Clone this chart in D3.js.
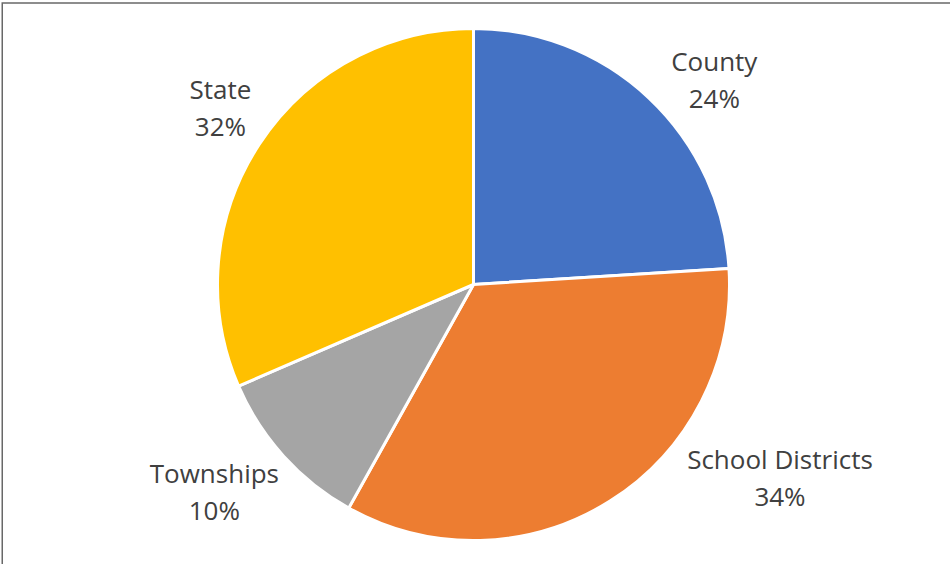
<!DOCTYPE html>
<html>
<head>
<meta charset="utf-8">
<script src="https://cdn.jsdelivr.net/npm/d3@7/dist/d3.min.js"></script>
<style>
  html, body { margin: 0; padding: 0; background: #ffffff; }
  svg { display: block; }
</style>
</head>
<body>
<svg id="chart" width="950" height="564"></svg>
<script>
// Share of revenue by level of government
const categories = ["County", "School Districts", "Townships", "State"];
const shares = [24.0, 34.1, 10.4, 31.5];
const colors = ["#4472C4", "#ED7D31", "#A5A5A5", "#FFC000"];

const width = 950, height = 564;
const cx = 473.5, cy = 284.5, radius = 256;

const svg = d3.select("#chart");

// Chart area frame (open on the right and bottom, clipped by the page edge)
svg.append("rect")
  .attr("x", 2.25).attr("y", 3)
  .attr("width", 1200).attr("height", 1200)
  .attr("fill", "none")
  .attr("stroke", "#686868")
  .attr("stroke-width", 1.5);

const data = categories.map((c, i) => ({ name: c, value: shares[i], color: colors[i] }));

const pie = d3.pie().sort(null).value(d => d.value);
const arcs = pie(data);

const arc = d3.arc().innerRadius(0).outerRadius(radius);

const g = svg.append("g").attr("transform", `translate(${cx},${cy})`);

g.selectAll("path.slice")
  .data(arcs)
  .join("path")
  .attr("class", "slice")
  .attr("d", arc)
  .attr("fill", d => d.data.color)
  .attr("stroke", "#ffffff")
  .attr("stroke-width", 3)
  .attr("stroke-linejoin", "round");

// Outside-end labels: anchored at the slice mid-angle, then shifted clear of the pie
const labelArc = d3.arc().innerRadius(radius + 30).outerRadius(radius + 30);
const labelShift = {
  "County": [45, 4],
  "School Districts": [154, -48],
  "Townships": [-47, 16],
  "State": [-14, -19]
};
const lineGap = 37;

const labels = g.selectAll("text.label")
  .data(arcs)
  .join("text")
  .attr("class", "label")
  .attr("text-anchor", "middle")
  .attr("font-family", "'Open Sans', Lato, sans-serif")
  .attr("font-size", 26)
  .attr("fill", "#404040")
  .attr("transform", d => {
    const [x, y] = labelArc.centroid(d);
    const [dx, dy] = labelShift[d.data.name];
    return `translate(${x + dx},${y + dy})`;
  });

labels.append("tspan")
  .attr("x", 0)
  .attr("y", -lineGap / 2)
  .attr("dy", "0.35em")
  .text(d => d.data.name);

labels.append("tspan")
  .attr("x", 0)
  .attr("y", lineGap / 2)
  .attr("dy", "0.35em")
  .text(d => d3.format(".0f")(d.data.value) + "%");
</script>
</body>
</html>
